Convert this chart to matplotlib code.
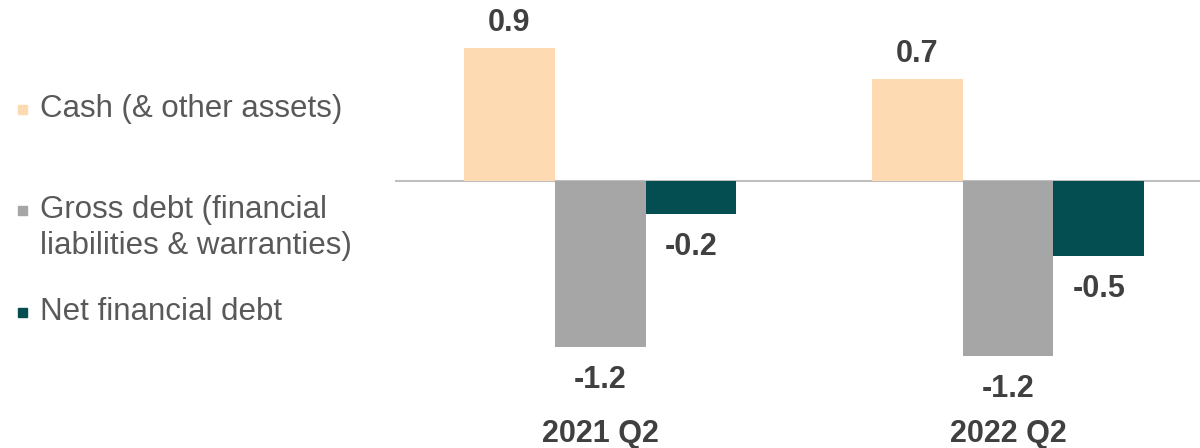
import matplotlib
matplotlib.use("Agg")
import matplotlib.pyplot as plt
from matplotlib.patches import Rectangle
import numpy as np

plt.rcParams["font.family"] = ["Liberation Sans", "DejaVu Sans"]

CASH_C = "#FDDAB1"; GROSS_C = "#A6A6A6"; NET_C = "#044E52"
TXT = "#404040"; LEG = "#595959"; LINE = "#BFBFBF"

periods = ["2021 Q2", "2022 Q2"]
cash = [0.94, 0.72]
gross = [-1.17, -1.24]
net = [-0.23, -0.53]
series_names = ["Cash (& other assets)", "Gross debt (financial\nliabilities & warranties)", "Net financial debt"]

fig = plt.figure(figsize=(12, 4.48), dpi=100)
ax = fig.add_axes([395 / 1200, 33 / 448, 805 / 1200, 415 / 448])

x = np.arange(len(periods)); w = 0.223
for off, vals, col in [(-w, cash, CASH_C), (0, gross, GROSS_C), (w, net, NET_C)]:
    bars = ax.bar(x + off, vals, w, color=col, linewidth=0)
    for b, v in zip(bars, vals):
        pos = v >= 0
        ax.annotate(f"{v:.1f}", (b.get_x() + b.get_width() / 2, v),
                    textcoords="offset points", xytext=(0, 7 if pos else -13),
                    ha="center", va="bottom" if pos else "top",
                    fontsize=22, fontweight="bold", color=TXT)

ax.axhline(0, color=LINE, lw=1.5, zorder=0)
ax.set_xlim(-0.5025, 1.4706)
ax.set_ylim(-1.654, 1.279)
ax.set_yticks([])
ax.set_xticks(x)
ax.set_xticklabels(periods, fontsize=22, fontweight="bold", color=TXT)
ax.tick_params(axis="x", length=0, pad=3)
for s in ax.spines.values():
    s.set_visible(False)

# legend drawn by hand (uneven spacing in the original)
leg_y = [109 / 448, 228 / 448, 312 / 448]
for name, col, yy in zip(series_names, [CASH_C, GROSS_C, NET_C], leg_y):
    n = name.count("\n") + 1
    sq_y = 1 - yy + (n - 1) * 18 / 448
    fig.patches.append(Rectangle((18 / 1200, sq_y - 5 / 448), 9 / 1200, 9 / 448,
                                 transform=fig.transFigure, color=col))
    fig.text(40 / 1200, 1 - yy, name, fontsize=22.5, color=LEG, va="center",
             linespacing=1.25)

fig.savefig("out.png", dpi=100, facecolor="white")
